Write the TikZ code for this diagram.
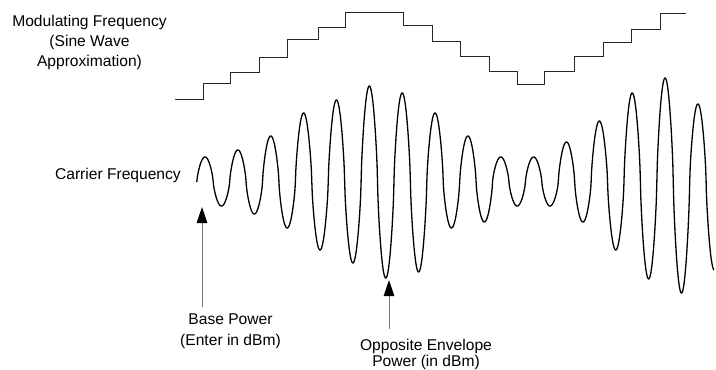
\documentclass[tikz,border=0pt]{standalone}
\usepackage{fontspec}
\setmainfont{Liberation Sans}
\usetikzlibrary{arrows.meta}
\tikzset{
  stair/.style={draw=black!85, line width=1pt},
  wave/.style={draw=black, line width=1.3pt, line join=round},
  label/.style={inner sep=0pt, align=center, font=\fontsize{15.6}{20}\selectfont},
  pointer/.style={draw=black!55, line width=1pt, -{Triangle[length=16pt,width=10.5pt,color=black]}}
}
\begin{document}
\begin{tikzpicture}[x=1pt,y=-1pt]
\useasboundingbox (0,0) rectangle (716,370);

% text labels
\node[label, anchor=north] (mod) at (89.5,15) {Modulating Frequency\\(Sine Wave\\Approximation)};
\node[label, anchor=base east] (car) at (181,179) {Carrier Frequency};
\node[label, anchor=north, font=\fontsize{15.6}{20.5}\selectfont] (base) at (230.5,314) {Base Power\\(Enter in dBm)};
\node[label, anchor=north, font=\fontsize{15.6}{16.5}\selectfont] (opp) at (426,338.5) {Opposite Envelope\\Power (in dBm)};

% staircase (modulating frequency)
\draw[stair] (175,99) -- (203,99) |- (230,83) |- (259,72) |- (287,57) |- (318,39)
  |- (345,27) |- (403,12) |- (432,25) |- (460,41) |- (489,56) |- (517,71)
  |- (544,84) |- (574,71) |- (603,56) |- (631,42) |- (660,29) |- (686,13);

% carrier wave (rounded lobes)
\draw[wave] (196.8,182)
  foreach \a [count=\i from 0,
              evaluate=\i as \xs using {196.8+\i*16.43},
              evaluate=\i as \xe using {min(196.8+(\i+1)*16.43,714)},
              evaluate=\i as \sg using {1-2*mod(\i,2)}] in
  {25,24,32,32,46,46,69,68,82,81,96,96,89,90,69,46,46,40,25,24,25,24,40,40,61,68,89,97,104,111,78,88}
  { -- plot[domain=\xs:\xe, samples=40]
      (\x,{182-\sg*\a*pow(abs(sin(((\x-196.8)/16.43)*180))+0.0001,0.72)}) };

% arrows
\coordinate (bpTail) at (202,307);
\coordinate (bpTip) at (202,207);
\coordinate (opTail) at (389,329);
\coordinate (opTip) at (389,280);
\draw[pointer] (bpTail) -- (bpTip);
\draw[pointer] (opTail) -- (opTip);
\end{tikzpicture}
\end{document}
